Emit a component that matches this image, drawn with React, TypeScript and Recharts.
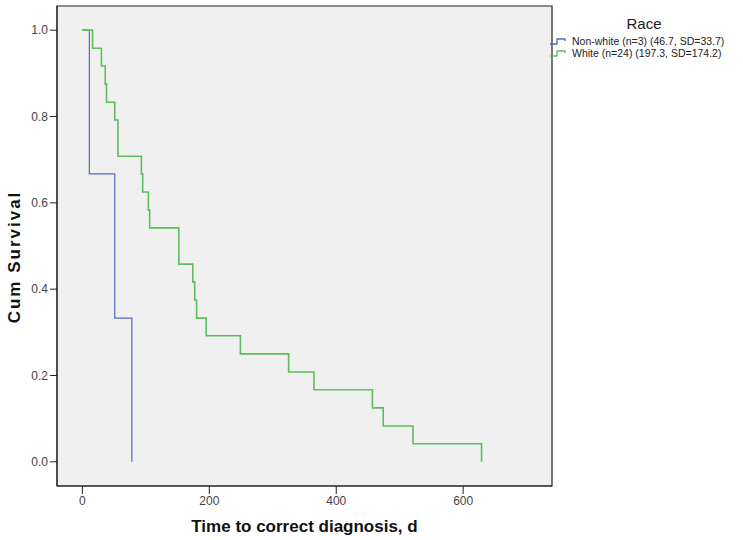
import { LineChart, Line, XAxis, YAxis, ReferenceArea, Label } from 'recharts'

// Kaplan-Meier estimates: t = days, s = cumulative survival
const nonWhite = [
  { t: 0, s: 1 },
  { t: 11, s: 0.667 },
  { t: 51, s: 0.333 },
  { t: 78, s: 0 },
]

const white = [
  { t: 0, s: 1 },
  { t: 16, s: 0.958 },
  { t: 30, s: 0.917 },
  { t: 36, s: 0.875 },
  { t: 38, s: 0.833 },
  { t: 51, s: 0.792 },
  { t: 56, s: 0.708 },
  { t: 93, s: 0.667 },
  { t: 95, s: 0.625 },
  { t: 104, s: 0.583 },
  { t: 106, s: 0.542 },
  { t: 152, s: 0.458 },
  { t: 174, s: 0.417 },
  { t: 177, s: 0.375 },
  { t: 180, s: 0.333 },
  { t: 195, s: 0.292 },
  { t: 249, s: 0.25 },
  { t: 325, s: 0.208 },
  { t: 365, s: 0.167 },
  { t: 457, s: 0.125 },
  { t: 474, s: 0.083 },
  { t: 521, s: 0.042 },
  { t: 629, s: 0 },
]

const xTicks = [0, 200, 400, 600]
const yTicks = [0, 0.2, 0.4, 0.6, 0.8, 1.0]
const xDomain = [-40, 740]
const yDomain = [-0.056, 1.056]

const groups = [
  { name: 'Non-white (n=3) (46.7, SD=33.7)', color: '#5468c0' },
  { name: 'White (n=24) (197.3, SD=174.2)', color: '#5cbf5c' },
]

const font = '"Liberation Sans", Arial, sans-serif'

function RaceLegend() {
  return (
    <div style={{ position: 'absolute', left: 549, top: 15, fontFamily: font, color: '#222' }}>
      <div style={{ fontSize: 15, textAlign: 'center', width: 190, marginBottom: 3 }}>Race</div>
      {groups.map(g => (
        <div key={g.name} style={{ display: 'flex', alignItems: 'center', fontSize: 10.5, lineHeight: '12px' }}>
          <svg width={22} height={10} style={{ marginRight: 1 }}>
            <path d="M1 8 H8 V3 H16 V5" fill="none" stroke={g.color} strokeWidth={1.3} />
          </svg>
          <span>{g.name}</span>
        </div>
      ))}
    </div>
  )
}

export default function App() {
  return (
    <div style={{ position: 'absolute', left: 0, top: 0, width: 743, height: 540, background: '#fff' }}>
      <LineChart width={743} height={540} margin={{ top: 6, right: 191, bottom: 0, left: 0 }}>
        <ReferenceArea
          x1={xDomain[0]} x2={xDomain[1]} y1={yDomain[0]} y2={yDomain[1]}
          fill="#f0f0f0" fillOpacity={1} stroke="#222" strokeWidth={1.2}
        />
        <XAxis
          dataKey="t"
          type="number"
          domain={xDomain}
          ticks={xTicks}
          allowDataOverflow
          height={54}
          tick={{ fontSize: 12, fill: '#444', fontFamily: font }}
          tickSize={8}
          stroke="#222"
          label={{ value: 'Time to correct diagnosis, d', position: 'insideBottom', offset: 8, style: { fontSize: 17, fontWeight: 700, fill: '#111', fontFamily: font } }}
        />
        <YAxis
          type="number"
          domain={yDomain}
          ticks={yTicks}
          allowDataOverflow
          width={57}
          tick={{ fontSize: 12, fill: '#444', fontFamily: font }}
          tickSize={7}
          tickFormatter={(v: number) => v.toFixed(1)}
          stroke="#222"
        >
          <Label
            content={() => (
              <text
                x={14} y={257}
                transform="rotate(-90 14 257)"
                textAnchor="middle"
                dominantBaseline="central"
                style={{ fontSize: 17, fontWeight: 700, fill: '#111', fontFamily: font, letterSpacing: 2 }}
              >
                Cum Survival
              </text>
            )}
          />
        </YAxis>
        <Line data={nonWhite} dataKey="s" type="stepAfter" stroke={groups[0].color} strokeWidth={1.2} dot={false} isAnimationActive={false} />
        <Line data={white} dataKey="s" type="stepAfter" stroke={groups[1].color} strokeWidth={1.6} dot={false} isAnimationActive={false} />
      </LineChart>
      <RaceLegend />
    </div>
  )
}
